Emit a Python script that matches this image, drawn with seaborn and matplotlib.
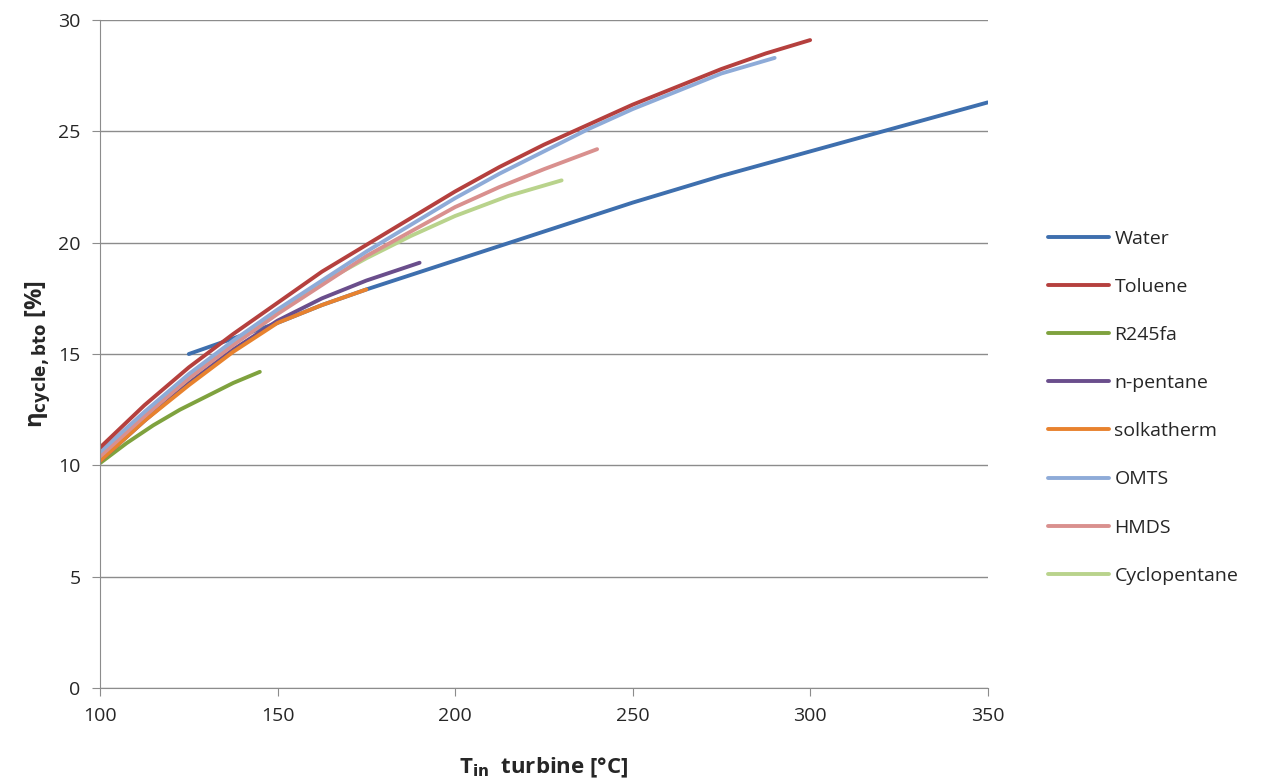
import matplotlib
matplotlib.use('Agg')
import numpy as np
import pandas as pd
import matplotlib.pyplot as plt
import seaborn as sns

# 读图估计的数据 (T_in turbine [°C], eta [%])
water_t = [125, 137.5, 150, 162.5, 175, 200, 225, 250, 275, 300, 325, 350]
water_eta = [15.0, 15.7, 16.4, 17.2, 17.9, 19.2, 20.5, 21.8, 23.0, 24.1, 25.2, 26.3]
toluene_t = [100, 112.5, 125, 137.5, 150, 162.5, 175, 187.5, 200, 212.5, 225, 237.5, 250, 262.5, 275, 287.5, 300]
toluene_eta = [10.8, 12.7, 14.4, 15.9, 17.3, 18.7, 19.9, 21.1, 22.3, 23.4, 24.4, 25.3, 26.2, 27.0, 27.8, 28.5, 29.1]
r245fa_t = [100, 107.5, 115, 122.5, 130, 137.5, 145]
r245fa_eta = [10.1, 11.0, 11.8, 12.5, 13.1, 13.7, 14.2]
npentane_t = [100, 112.5, 125, 137.5, 150, 162.5, 175, 182.5, 190]
npentane_eta = [10.2, 12.0, 13.7, 15.2, 16.5, 17.5, 18.3, 18.7, 19.1]
solk_t = [100, 112.5, 125, 137.5, 150, 162.5, 175]
solk_eta = [10.2, 12.0, 13.6, 15.1, 16.4, 17.2, 17.9]
omts_t = [100, 112.5, 125, 137.5, 150, 162.5, 175, 187.5, 200, 212.5, 225, 237.5, 250, 262.5, 275, 290]
omts_eta = [10.6, 12.4, 14.1, 15.6, 17.0, 18.3, 19.6, 20.8, 22.0, 23.1, 24.1, 25.1, 26.0, 26.8, 27.6, 28.3]
hmds_t = [100, 112.5, 125, 137.5, 150, 162.5, 175, 187.5, 200, 212.5, 225, 240]
hmds_eta = [10.4, 12.2, 13.9, 15.4, 16.8, 18.1, 19.4, 20.5, 21.6, 22.5, 23.3, 24.2]
cyclo_t = [100, 112.5, 125, 137.5, 150, 162.5, 175, 187.5, 200, 215, 230]
cyclo_eta = [10.5, 12.3, 13.9, 15.5, 16.9, 18.2, 19.3, 20.3, 21.2, 22.1, 22.8]

names = ['Water', 'Toluene', 'R245fa', 'n-pentane', 'solkatherm', 'OMTS', 'HMDS', 'Cyclopentane']
colors = ['#3E6FAE', '#B5403E', '#7FA23E', '#6A4E8C', '#E8822E', '#8EABD8', '#D9908E', '#B9D38C']
series = [(water_t, water_eta), (toluene_t, toluene_eta), (r245fa_t, r245fa_eta),
          (npentane_t, npentane_eta), (solk_t, solk_eta), (omts_t, omts_eta),
          (hmds_t, hmds_eta), (cyclo_t, cyclo_eta)]

rows = []
for name, (t, e) in zip(names, series):
    for a, b in zip(t, e):
        rows.append({'fluid': name, 'T': a, 'eta': b})
df = pd.DataFrame(rows)

sns.set_style('white')
plt.rcParams['font.family'] = ['Open Sans', 'DejaVu Sans']

fig = plt.figure(figsize=(12.68, 7.83), dpi=100)
ax = fig.add_axes([0.0789, 0.1213, 0.7, 0.8531])

# 绘制顺序: 后面的曲线压在上面
draw_order = ['Water', 'R245fa', 'n-pentane', 'solkatherm', 'Cyclopentane', 'HMDS', 'OMTS', 'Toluene']
pal = dict(zip(names, colors))
for name in draw_order:
    sub = df[df['fluid'] == name]
    sns.lineplot(data=sub, x='T', y='eta', ax=ax, color=pal[name], linewidth=2.8,
                 sort=False, estimator=None, legend=False, solid_capstyle='round')

ax.set_xlim(100, 350)
ax.set_ylim(0, 30)
ax.set_xticks(range(100, 351, 50))
ax.set_yticks(range(0, 31, 5))
ax.grid(axis='y', color='#8c8c8c', linewidth=1.0)
ax.grid(axis='x', visible=False)
for s in ['top', 'right']:
    ax.spines[s].set_visible(False)
for s in ['left', 'bottom']:
    ax.spines[s].set_color('#8c8c8c')
ax.tick_params(axis='both', labelsize=14, color='#8c8c8c', length=6, direction='out',
               left=True, bottom=True, pad=8)
ax.set_xlabel(r'T$_{\mathbf{in}}$  turbine [°C]', fontsize=16, fontweight='bold', labelpad=22)
ax.set_ylabel(r'η$_{\mathbf{cycle,bto}}$ [%]', fontsize=17, fontweight='bold', labelpad=4)

handles = [plt.Line2D([], [], color=c, linewidth=2.8) for c in colors]
fig.legend(handles, names, loc='center left', bbox_to_anchor=(0.813, 0.48), frameon=False,
           fontsize=14, labelspacing=1.55, handlelength=3.1, handletextpad=0.3)

plt.savefig('out.png', dpi=100)
plt.close()
